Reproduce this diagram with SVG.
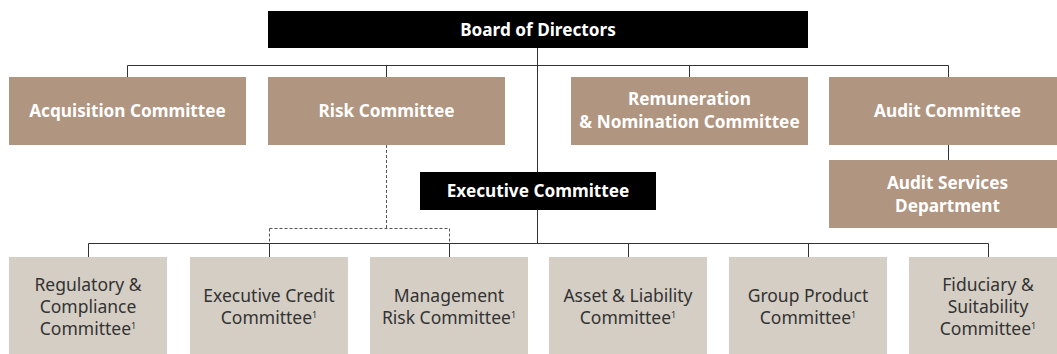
<svg xmlns="http://www.w3.org/2000/svg" width="1057" height="354" viewBox="0 0 1057 354">
  <style>
    .board { fill: #000000; }
    .brown { fill: #b09580; }
    .light { fill: #d5cec4; }
    .lbl-w { font-family: "Noto Sans", "Open Sans", sans-serif; font-weight: 700; font-size: 17.2px; fill: #ffffff; text-anchor: middle; }
    .lbl-d { font-family: "Noto Sans", "Open Sans", sans-serif; font-weight: 400; font-size: 17.5px; fill: #333333; text-anchor: middle; }
    .sup { font-size: 9px; }
    .line { fill: none; stroke: #333333; stroke-width: 1; }
    .dash { fill: none; stroke: #555555; stroke-width: 1; stroke-dasharray: 3 2; }
  </style>

  <!-- connectors -->
  <g id="connectors">
    <!-- board to committees -->
    <path class="line" d="M127.5 65.5 H948.5 M127.5 65.5 V77 M386.5 65.5 V77 M689.5 65.5 V77 M948.5 65.5 V77"/>
    <!-- board down through executive committee -->
    <path class="line" d="M537.5 48 V243.5"/>
    <!-- audit committee to audit services -->
    <path class="line" d="M948.5 145 V160"/>
    <!-- executive committee to management committees -->
    <path class="line" d="M88.5 243.5 H988.5 M88.5 243.5 V257 M269.5 243.5 V257 M449.5 243.5 V257 M628.5 243.5 V257 M808.5 243.5 V257 M988.5 243.5 V257"/>
    <!-- risk committee oversight (dotted) -->
    <path class="dash" d="M386.5 145 V228.5 M269.5 228.5 H449.5 M269.5 228.5 V243 M449.5 228.5 V243"/>
  </g>

  <g id="board">
    <rect class="board" x="268" y="11" width="540" height="37"/>
    <text class="lbl-w" x="538" y="36">Board of Directors</text>
  </g>

  <g id="acquisition">
    <rect class="brown" x="9" y="77" width="237" height="68"/>
    <text class="lbl-w" x="127.5" y="117">Acquisition Committee</text>
  </g>

  <g id="risk">
    <rect class="brown" x="268" y="77" width="237" height="68"/>
    <text class="lbl-w" x="386.5" y="117">Risk Committee</text>
  </g>

  <g id="remuneration">
    <rect class="brown" x="571" y="77" width="237" height="68"/>
    <text class="lbl-w" x="689.5" y="105">Remuneration</text>
    <text class="lbl-w" x="689.5" y="128">&amp; Nomination Committee</text>
  </g>

  <g id="audit">
    <rect class="brown" x="829" y="77" width="237" height="68"/>
    <text class="lbl-w" x="947.5" y="117">Audit Committee</text>
  </g>

  <g id="executive">
    <rect class="board" x="420" y="172" width="236" height="38"/>
    <text class="lbl-w" x="538" y="197">Executive Committee</text>
  </g>

  <g id="audit-services">
    <rect class="brown" x="829" y="160" width="237" height="68"/>
    <text class="lbl-w" x="947.5" y="189">Audit Services</text>
    <text class="lbl-w" x="947.5" y="212">Department</text>
  </g>

  <g id="regulatory">
    <rect class="light" x="9" y="257" width="158" height="100"/>
    <text class="lbl-d" x="88" y="291">Regulatory &amp;</text>
    <text class="lbl-d" x="88" y="313">Compliance</text>
    <text class="lbl-d" x="88" y="335">Committee<tspan class="sup" dy="-6">1</tspan></text>
  </g>

  <g id="credit">
    <rect class="light" x="190" y="257" width="158" height="100"/>
    <text class="lbl-d" x="269" y="302">Executive Credit</text>
    <text class="lbl-d" x="269" y="324">Committee<tspan class="sup" dy="-6">1</tspan></text>
  </g>

  <g id="mgmt-risk">
    <rect class="light" x="370" y="257" width="158" height="100"/>
    <text class="lbl-d" x="449" y="302">Management</text>
    <text class="lbl-d" x="449" y="324">Risk Committee<tspan class="sup" dy="-6">1</tspan></text>
  </g>

  <g id="alco">
    <rect class="light" x="549" y="257" width="158" height="100"/>
    <text class="lbl-d" x="628" y="302">Asset &amp; Liability</text>
    <text class="lbl-d" x="628" y="324">Committee<tspan class="sup" dy="-6">1</tspan></text>
  </g>

  <g id="product">
    <rect class="light" x="729" y="257" width="158" height="100"/>
    <text class="lbl-d" x="808" y="302">Group Product</text>
    <text class="lbl-d" x="808" y="324">Committee<tspan class="sup" dy="-6">1</tspan></text>
  </g>

  <g id="fiduciary">
    <rect class="light" x="909" y="257" width="158" height="100"/>
    <text class="lbl-d" x="988" y="291">Fiduciary &amp;</text>
    <text class="lbl-d" x="988" y="313">Suitability</text>
    <text class="lbl-d" x="988" y="335">Committee<tspan class="sup" dy="-6">1</tspan></text>
  </g>
</svg>
